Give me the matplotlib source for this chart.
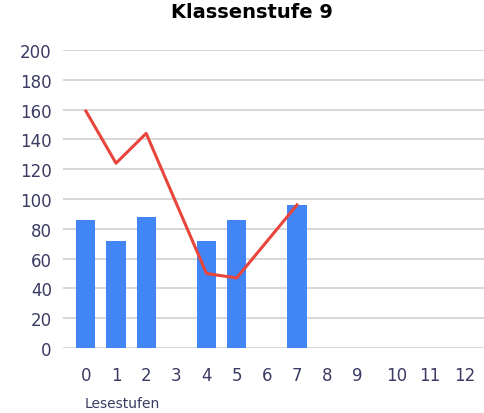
import numpy as np
import matplotlib
matplotlib.use("Agg")
import matplotlib.pyplot as plt

# Daten (Lesestufen 0-12, fehlende Stufen = NaN)
stufen = list(range(13))
balken = [86, 72, 88, np.nan, 72, 86, np.nan, 96, np.nan, np.nan, np.nan, np.nan, np.nan]
linie = [159, 124, 144, np.nan, 50, 47, np.nan, 96, np.nan, np.nan, np.nan, np.nan, np.nan]
y_ticks = [0, 20, 40, 60, 80, 100, 120, 140, 160, 180, 200]

# nur Layout: Beschriftungen 10-12 stehen im Original etwas weiter rechts
label_versatz = [0] * 10 + [0.3, 0.4, 0.55]

plt.rcParams["font.family"] = ["DejaVu Sans"]
textfarbe = "#3b3b63"

fig = plt.figure(figsize=(4.84, 4.14), dpi=100)
ax = fig.add_axes([0.130, 0.157, 0.870, 0.720])

x = np.array(stufen, dtype=float)
b = np.array(balken, dtype=float)
l = np.array(linie, dtype=float)

ok_b = ~np.isnan(b)
ax.bar(x[ok_b], b[ok_b], width=0.64, color="#4285f4", zorder=2)

# Linie verbindet nur vorhandene Werte (Luecken werden ueberbrueckt)
ok_l = ~np.isnan(l)
ax.plot(x[ok_l], l[ok_l], color="#e8453c", linewidth=2.2, zorder=3)

ax.set_ylim(0, 200)
ax.set_xlim(-0.76, 13.2)
ax.set_yticks(y_ticks)
ax.set_xticks([s + v for s, v in zip(stufen, label_versatz)])
ax.set_xticklabels([str(s) for s in stufen])
ax.yaxis.grid(True, color="#d4d4d4", linewidth=1.3, zorder=0)
ax.set_axisbelow(True)
for s in ax.spines.values():
    s.set_visible(False)
ax.tick_params(axis="both", length=0, labelsize=12, colors=textfarbe)
ax.tick_params(axis="x", pad=13)
ax.tick_params(axis="y", pad=8)

fig.text(0.52, 1 - 12 / 414, "Klassenstufe 9", fontsize=14,
         fontweight="bold", color="black", ha="center", va="center")
fig.text(85 / 484, 1 - 404 / 414, "Lesestufen", fontsize=10,
         color=textfarbe, ha="left", va="center")

fig.savefig("out.png", dpi=100)
